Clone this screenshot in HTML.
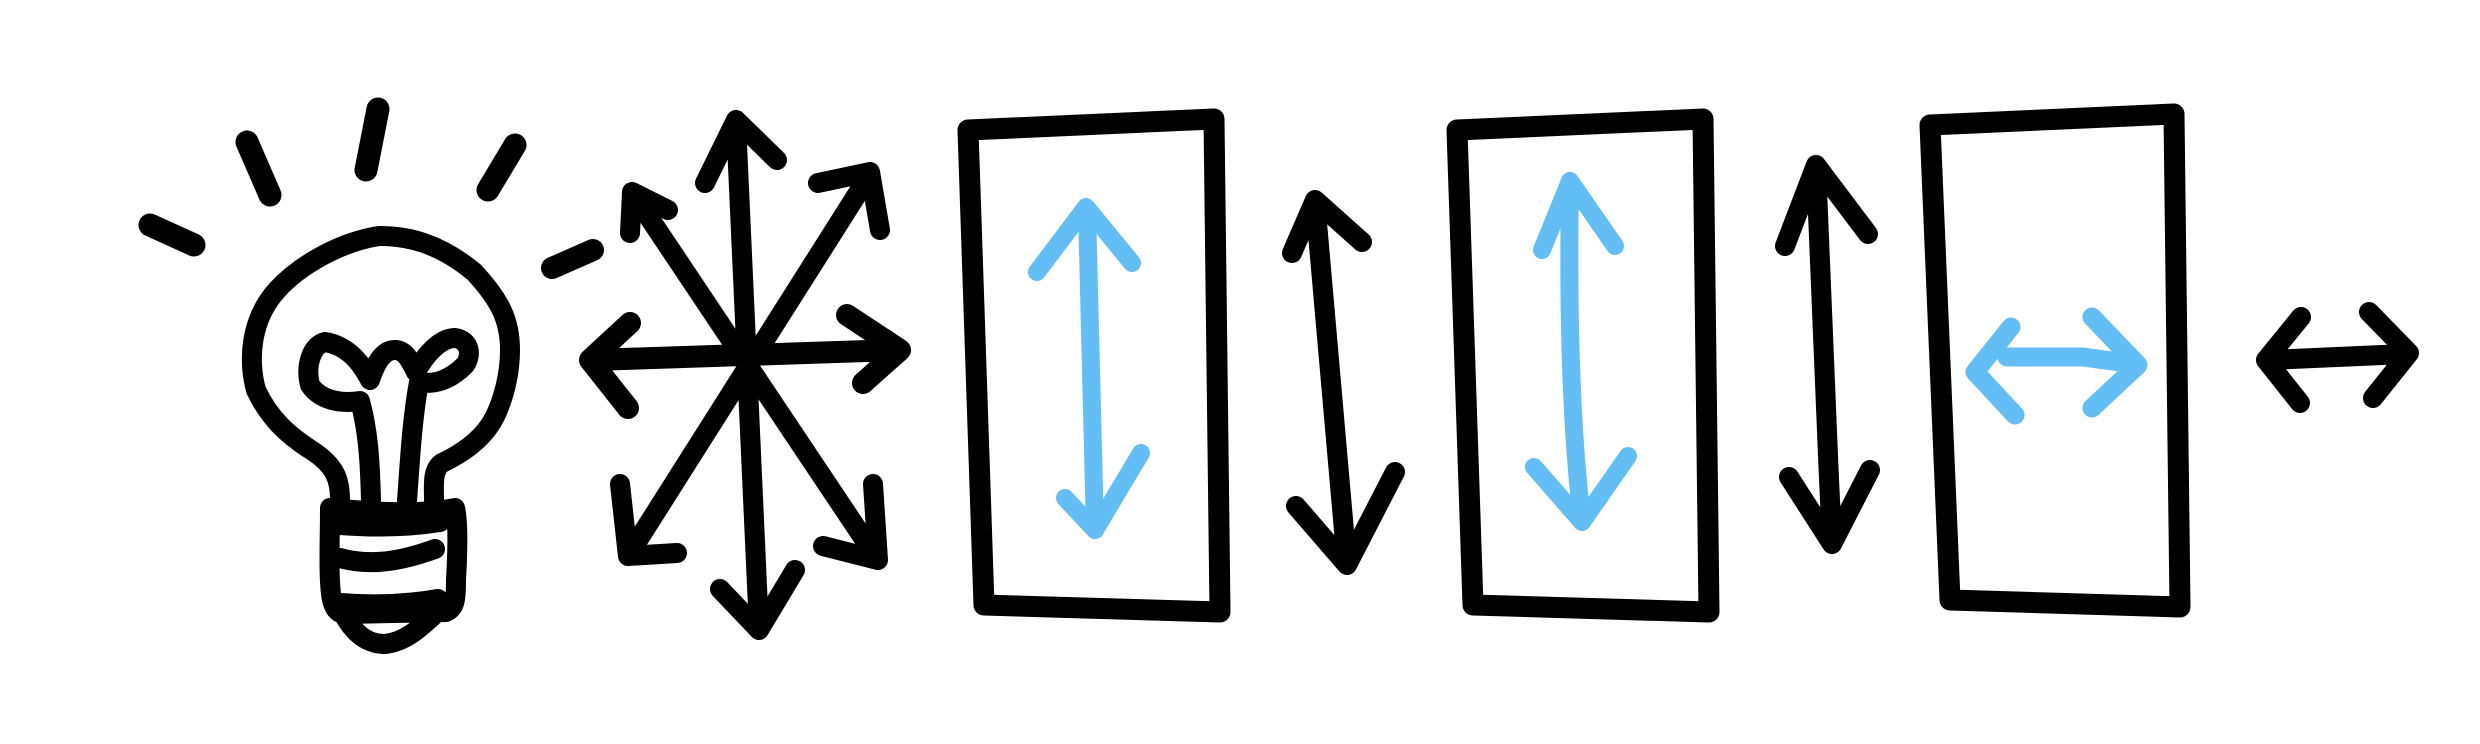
<!DOCTYPE html>
<html><head><meta charset="utf-8"><style>
html,body{margin:0;padding:0;background:#fff;}
svg{display:block;}
</style></head><body>
<svg width="2480" height="744" viewBox="0 0 2480 744" xmlns="http://www.w3.org/2000/svg" fill="none" stroke-linecap="round" stroke-linejoin="round">
<rect width="2480" height="744" fill="#fff" stroke="none"/>
<g stroke="#000" stroke-width="20">
  <path d="M150,225 L194,245 M247,142 L270,195 M378,109 L366,170 M515,145 L488,190" stroke-width="23"/>
  <path d="M340,500 C340,480 336,465 308,448 C290,436 270,420 256,390 C248,360 250,320 277,290 C300,265 340,242 379,236 C410,236 440,244 474,272 C500,300 510,320 510,350 C510,380 500,410 490,425 C480,440 465,452 442,463 C432,470 434,485 434,500"/>
  <path d="M371,501 C370,460 368,430 360,401 C340,404 320,400 310,385 C305,365 312,345 325,342 C345,345 360,360 370,380 M370,380 C375,365 382,350 395,350 C405,350 410,360 416,372 M419,382 C412,420 410,460 407,501 M416,372 C425,355 440,338 455,338 C470,340 472,355 465,365 C450,380 435,385 419,382"/>
  <path d="M330,508 C330,540 328,580 332,600 C335,612 340,614 346,614 L446,612 C455,608 456,600 456,580 C458,545 458,520 455,508 C420,515 370,512 330,508 M340,525 C380,528 415,526 440,522 M340,558 C375,568 410,558 435,549 M340,603 C380,606 410,604 438,599"/>
  <path d="M344,615 C355,635 368,644 385,644 C405,642 420,628 434,615"/>
</g>
<g stroke="#000" stroke-width="20">
  <path d="M552,268 L593,250" stroke-width="22"/>
  <path d="M736,122 L759,630 M705,183 L736,120 L777,160 M720,589 L759,630 L795,570"/>
  <path d="M870,174 L628,556 M818,183 L870,172 L880,230 M620,484 L628,556 L677,553"/>
  <path d="M632,192 L878,560 M630,233 L632,192 L668,210 M873,484 L878,560 L823,546"/>
  <path d="M592,360 L898,350 M630,323 L590,360 L628,408 M847,315 L900,350 L863,383" stroke-width="22"/>
</g>
<g>
  <path d="M968,130 L1214,119 L1220,612 L984,605 Z" stroke="#000" stroke-width="21"/>
  <path d="M1087,210 L1095,530 M1037,272 L1086,207 L1132,263 M1065,498 L1095,530 L1141,453" stroke="#63BEF6" stroke-width="18"/>
</g>
<g stroke="#000" stroke-width="20">
  <path d="M1315,200 L1347,565 M1292,253 L1315,200 L1362,242 M1296,506 L1347,565 L1395,472"/>
</g>
<g>
  <path d="M1457,130 L1703,119 L1709,612 L1473,605 Z" stroke="#000" stroke-width="21"/>
  <path d="M1570,183 C1568,300 1570,420 1582,520 M1542,250 L1570,181 L1615,246 M1534,467 L1582,522 L1628,456" stroke="#63BEF6" stroke-width="18"/>
</g>
<g stroke="#000" stroke-width="20">
  <path d="M1816,165 C1822,300 1826,420 1832,544 M1785,246 L1816,165 L1868,234 M1789,477 L1832,544 L1870,470"/>
</g>
<g>
  <path d="M1930,125 L2174,114 L2180,607 L1950,600 Z" stroke="#000" stroke-width="21"/>
  <path d="M2007,357 L2083,357 L2134,364 M2011,327 L1975,372 L2015,415 M2092,317 L2138,365 L2092,408" stroke="#63BEF6" stroke-width="19"/>
</g>
<g stroke="#000" stroke-width="20">
  <path d="M2270,360 L2405,354 M2301,317 L2266,360 L2300,403 M2369,312 L2409,353 L2373,398"/>
</g>
</svg>
</body></html>
